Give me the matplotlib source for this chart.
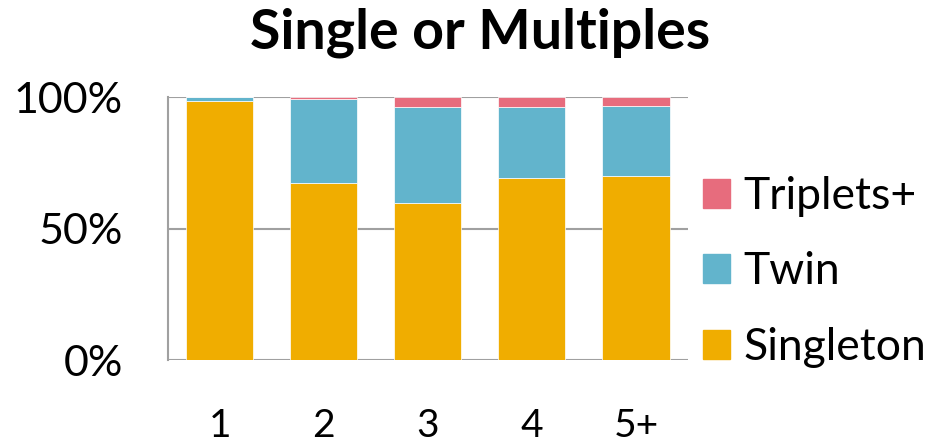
import matplotlib
matplotlib.use("Agg")
import matplotlib.pyplot as plt
from matplotlib.patches import Patch

categories = ["1", "2", "3", "4", "5+"]
singleton = [98.5, 67.4, 59.9, 69.5, 70.1]
twin = [1.5, 31.8, 36.4, 26.9, 26.5]
triplets = [0.0, 0.8, 3.7, 3.6, 3.4]
yticks = [0, 50, 100]
ytick_labels = ["0%", "50%", "100%"]

c_single = "#F0AD00"
c_twin = "#62B4CC"
c_trip = "#E76C7D"

plt.rcParams['font.family'] = ['Lato', 'DejaVu Sans']

fig = plt.figure(figsize=(9.47, 4.48), dpi=100)
ax = fig.add_axes([167.5/947, 1 - 360.3/448, (688 - 167.5)/947, (360.3 - 97.3)/448])

x = list(range(len(categories)))
w = 0.645
ax.bar(x, singleton, width=w, color=c_single, edgecolor="white", linewidth=0.5, zorder=3)
b2 = [s for s in singleton]
ax.bar(x, twin, width=w, bottom=b2, color=c_twin, edgecolor="white", linewidth=0.5, zorder=3)
b3 = [s + t for s, t in zip(singleton, twin)]
ax.bar(x, triplets, width=w, bottom=b3, color=c_trip, edgecolor="white", linewidth=0.5, zorder=3)

ax.set_xlim(-0.5, len(categories) - 0.5)
ax.set_ylim(0, 100)
ax.set_yticks(yticks)
ax.set_yticklabels(ytick_labels, fontsize=31)
ax.set_xticks(x)
ax.set_xticklabels(categories, fontsize=28)
ax.tick_params(axis='y', length=0, pad=32)
ax.tick_params(axis='x', length=0, pad=34)
for s in ["top", "right", "bottom"]:
    ax.spines[s].set_visible(False)
ax.spines["left"].set_color("#a0a0a0")
ax.spines["left"].set_linewidth(1.5)
ax.yaxis.grid(True, color="#a0a0a0", linewidth=1.5, zorder=0)
ax.set_axisbelow(True)

fig.text(480/947, 1 - 33/448, "Single or Multiples", ha="center", va="center",
         fontsize=40, fontweight="bold")

handles = [Patch(color=c_trip), Patch(color=c_twin), Patch(color=c_single)]
labels = ["Triplets+", "Twin", "Singleton"]
fig.legend(handles, labels, loc="center left", bbox_to_anchor=(694/947, 1 - 272/448),
           frameon=False, fontsize=32, handlelength=0.62, handleheight=0.62,
           handletextpad=0.3, labelspacing=0.78, borderaxespad=0, borderpad=0.2)

fig.savefig("out.png", dpi=100)
